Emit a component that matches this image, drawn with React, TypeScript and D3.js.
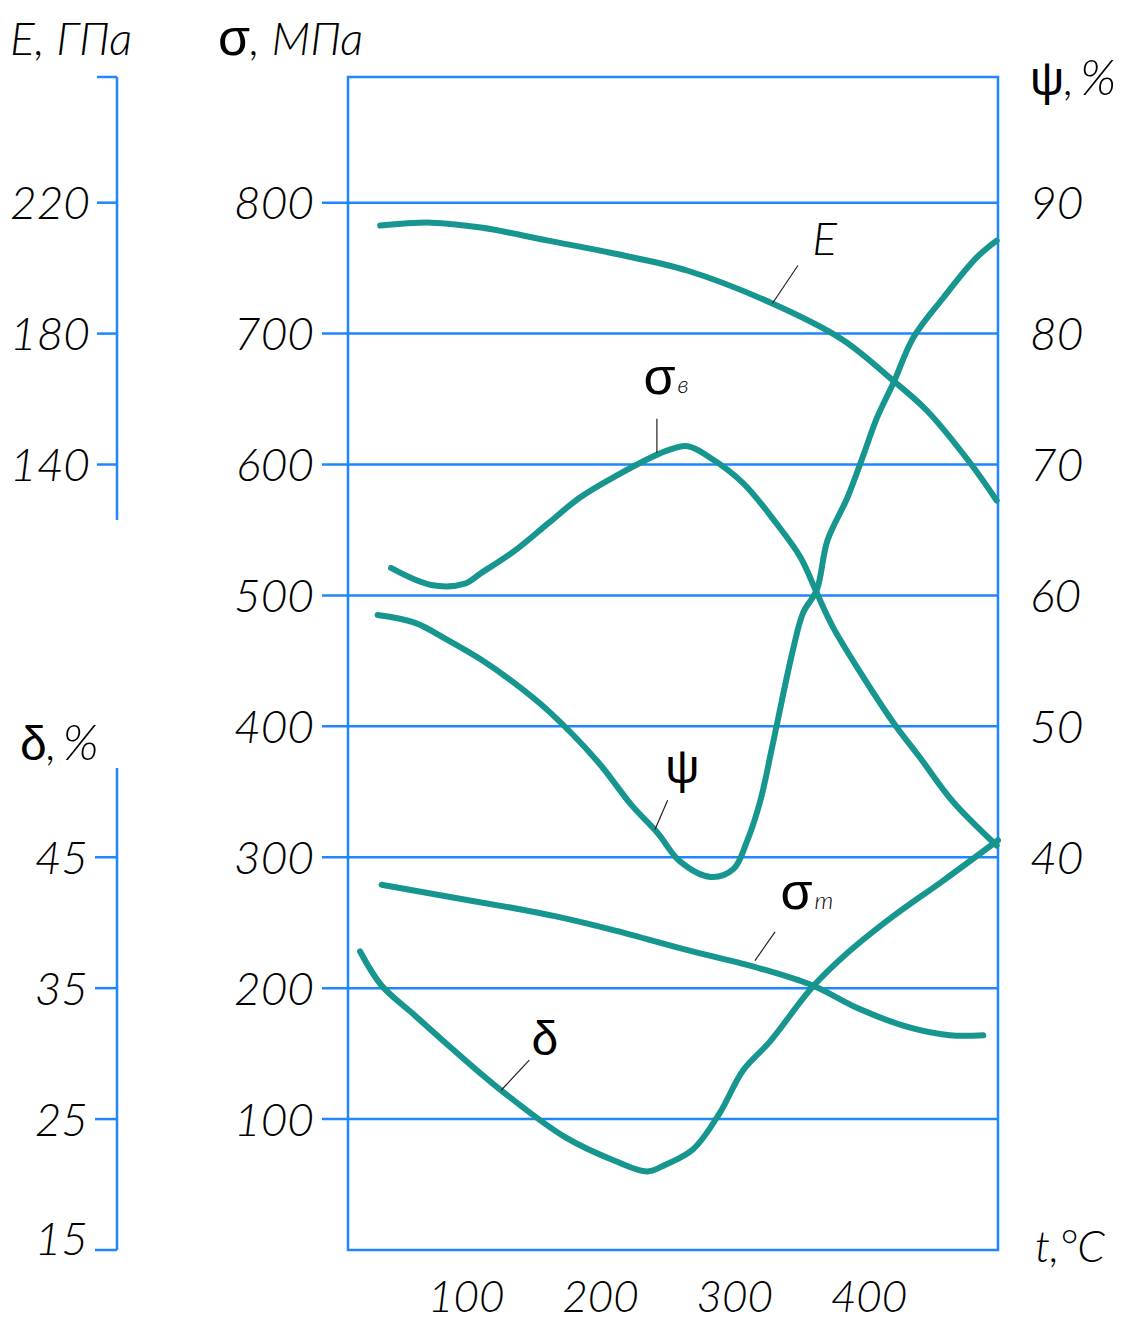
import * as d3 from 'd3';

// temperature ticks (°C) and the scale ticks on each axis
const tempTicks = [100, 200, 300, 400];
const sigmaTicks = [100, 200, 300, 400, 500, 600, 700, 800];
const eTicks = [140, 180, 220];
const psiTicks = [40, 50, 60, 70, 80, 90];
const deltaTicks = [15, 25, 35, 45];

// E, GPa
const eTemp = [36, 74, 111, 161, 211, 265, 328, 380, 418, 443, 475, 495];
const eValues = [213, 213.9, 212.4, 208.4, 204.4, 199.2, 189.2, 178.2, 165.6, 156.5, 140.6, 129];

// sigma_v (ultimate), MPa
const sbTemp = [44, 74, 99, 111, 136, 161, 185, 211, 248, 265, 282, 306, 331, 349, 361, 373, 393, 418, 438, 462, 495];
const sbValues = [521, 508, 509, 517, 534, 555, 575, 591, 610, 614, 605, 586, 555, 529, 502, 476, 442, 403, 376, 343, 309];

// sigma_t (yield), MPa
const stTemp = [37, 86, 136, 166, 211, 265, 319, 358, 393, 430, 460, 485];
const stValues = [279, 270, 261, 255, 244, 229, 215, 202, 184, 170, 164, 164];

// psi, %
const psiTemp = [34, 62, 86, 111, 136, 161, 198, 223, 243, 259, 282, 299, 309, 319, 328, 343, 351, 361, 369, 384, 395, 406, 418, 433, 455, 480, 495];
const psiValues = [58.5, 57.9, 56.6, 55.1, 53.3, 51.2, 47.3, 44.0, 41.8, 39.7, 38.5, 39.1, 41.2, 44.3, 48.5, 55.7, 58.7, 60.4, 64.2, 67.5, 70.5, 73.6, 76.2, 79.7, 82.7, 85.8, 87.1];

// delta, %
const deltaTemp = [21, 37, 62, 86, 126, 174, 211, 235, 248, 269, 289, 306, 326, 358, 384, 418, 455, 496];
const deltaValues = [37.8, 35.2, 32.9, 30.7, 27.2, 23.6, 21.8, 21.0, 21.5, 22.7, 25.5, 28.7, 30.9, 35.1, 37.7, 40.5, 43.2, 46.3];

const BLUE = '#1f86ff';
const TEAL = '#17968f';
const NUM_FONT = 'Lato, "DejaVu Sans Condensed", sans-serif';
const SYM_FONT = '"Liberation Sans", Arial, sans-serif';

export default function App() {
  const W = 1128;
  const H = 1323;
  const box = { left: 348, right: 998, top: 77, bottom: 1250 };

  const x = d3.scaleLinear().domain([12, 496]).range([box.left, box.right]);
  const y = d3.scaleLinear().domain([0, 896]).range([box.bottom, box.top]);
  // secondary scales share the same vertical space
  const eScale = d3.scaleLinear().domain([140, 220]).range([y(600), y(800)]);
  const psiScale = d3.scaleLinear().domain([40, 90]).range([y(300), y(800)]);
  const deltaScale = d3.scaleLinear().domain([15, 45]).range([y(0), y(300)]);

  const line = d3.line<[number, number]>()
    .x(d => d[0])
    .y(d => d[1])
    .curve(d3.curveCatmullRom.alpha(0.5));

  const curves = [
    eTemp.map((t, i) => [x(t), eScale(eValues[i])] as [number, number]),
    sbTemp.map((t, i) => [x(t), y(sbValues[i])] as [number, number]),
    stTemp.map((t, i) => [x(t), y(stValues[i])] as [number, number]),
    psiTemp.map((t, i) => [x(t), psiScale(psiValues[i])] as [number, number]),
    deltaTemp.map((t, i) => [x(t), deltaScale(deltaValues[i])] as [number, number]),
  ];

  // leader lines: from [t, sigma] to [t, sigma]
  const leaders = [
    [[328, 723], [347, 752]],
    [[242, 609], [242, 635]],
    [[240.5, 321], [250, 343.5]],
    [[315, 221], [330, 243]],
    [[126, 122], [147, 145]],
  ];

  const eAxisX = 117;
  const eTop = eScale.invert(box.top);
  const eBottom = eScale.invert(520);
  const dTop = deltaScale.invert(768);

  const numStyle = { fontFamily: NUM_FONT, fontStyle: 'italic' as const, fontWeight: 300, fontSize: 46 };

  return (
    <svg width={W} height={H} style={{ position: 'absolute', left: 0, top: 0, background: '#fff' }}>
      {/* grid lines with left tick stubs */}
      {sigmaTicks.map(s => (
        <line key={'g' + s} x1={322} x2={box.right} y1={y(s)} y2={y(s)} stroke={BLUE} strokeWidth={2.5} />
      ))}
      <rect x={box.left} y={box.top} width={box.right - box.left} height={box.bottom - box.top}
        fill="none" stroke={BLUE} strokeWidth={2.5} />

      {/* sigma labels */}
      {sigmaTicks.map(s => (
        <text key={'s' + s} x={314} y={y(s)} dy="0.36em" textAnchor="end" {...numStyle}>{s}</text>
      ))}

      {/* psi labels */}
      {psiTicks.map(p => (
        <text key={'p' + p} x={1030} y={psiScale(p)} dy="0.36em" textAnchor="start" {...numStyle}>{p}</text>
      ))}

      {/* temperature labels */}
      {tempTicks.map(t => (
        <text key={'t' + t} x={x(t)} y={1312} textAnchor="middle" {...numStyle} fontSize={44}>{t}</text>
      ))}

      {/* E axis */}
      <line x1={eAxisX} x2={eAxisX} y1={eScale(eTop)} y2={eScale(eBottom)} stroke={BLUE} strokeWidth={2.5} />
      <line x1={97} x2={eAxisX} y1={eScale(eTop)} y2={eScale(eTop)} stroke={BLUE} strokeWidth={2.5} />
      {eTicks.map(e => (
        <g key={'e' + e}>
          <line x1={97} x2={eAxisX} y1={eScale(e)} y2={eScale(e)} stroke={BLUE} strokeWidth={2.5} />
          <text x={90} y={eScale(e)} dy="0.36em" textAnchor="end" {...numStyle}>{e}</text>
        </g>
      ))}

      {/* delta axis */}
      <line x1={eAxisX} x2={eAxisX} y1={deltaScale(dTop)} y2={deltaScale(15)} stroke={BLUE} strokeWidth={2.5} />
      {deltaTicks.map(d => (
        <g key={'d' + d}>
          <line x1={95} x2={eAxisX} y1={deltaScale(d)} y2={deltaScale(d)} stroke={BLUE} strokeWidth={2.5} />
          <text x={88} y={deltaScale(d)} dy={d === 15 ? '0.1em' : '0.36em'} textAnchor="end" {...numStyle}>{d}</text>
        </g>
      ))}

      {/* curves */}
      {curves.map((c, i) => (
        <path key={'c' + i} d={line(c) || ''} fill="none" stroke={TEAL} strokeWidth={6} strokeLinecap="round" strokeLinejoin="round" />
      ))}

      {/* leaders */}
      {leaders.map((l, i) => (
        <line key={'l' + i} x1={x(l[0][0])} y1={y(l[0][1])} x2={x(l[1][0])} y2={y(l[1][1])} stroke="#222" strokeWidth={1.2} />
      ))}

      {/* curve labels */}
      <text x={x(367)} y={y(773)} dy="0.36em" textAnchor="middle" {...numStyle}>E</text>
      <text x={x(244)} y={y(666)} dy="0.3em" textAnchor="middle" fontFamily={SYM_FONT} fontSize={52}>σ</text>
      <text x={x(244) + 18} y={y(666) + 15} fontFamily={NUM_FONT} fontStyle="italic" fontWeight={300} fontSize={24}>в</text>
      <text x={x(261)} y={y(368)} dy="0.3em" textAnchor="middle" fontFamily={SYM_FONT} fontSize={48}>ψ</text>
      <text x={x(346)} y={y(272.5)} dy="0.3em" textAnchor="middle" fontFamily={SYM_FONT} fontSize={52}>σ</text>
      <text x={x(346) + 18} y={y(272.5) + 16} fontFamily={NUM_FONT} fontStyle="italic" fontWeight={300} fontSize={24}>т</text>
      <text x={x(158.6)} y={y(160)} dy="0.3em" textAnchor="middle" fontFamily={SYM_FONT} fontSize={48}>δ</text>

      {/* axis titles */}
      <text x={10} y={55} {...numStyle}>E, ГПа</text>
      <text x={218} y={55}>
        <tspan fontFamily={SYM_FONT} fontSize={52}>σ</tspan>
        <tspan {...numStyle}>, МПа</tspan>
      </text>
      <text x={1030} y={95}>
        <tspan fontFamily={SYM_FONT} fontSize={48}>ψ</tspan>
        <tspan {...numStyle}>,</tspan>
        <tspan {...numStyle} fontSize={50} dx={6}>%</tspan>
      </text>
      <text x={20} y={760}>
        <tspan fontFamily={SYM_FONT} fontSize={48}>δ</tspan>
        <tspan {...numStyle}>,</tspan>
        <tspan {...numStyle} fontSize={50} dx={6}>%</tspan>
      </text>
      <text x={1035} y={1262} {...numStyle} fontSize={44}>t,°C</text>
    </svg>
  );
}
